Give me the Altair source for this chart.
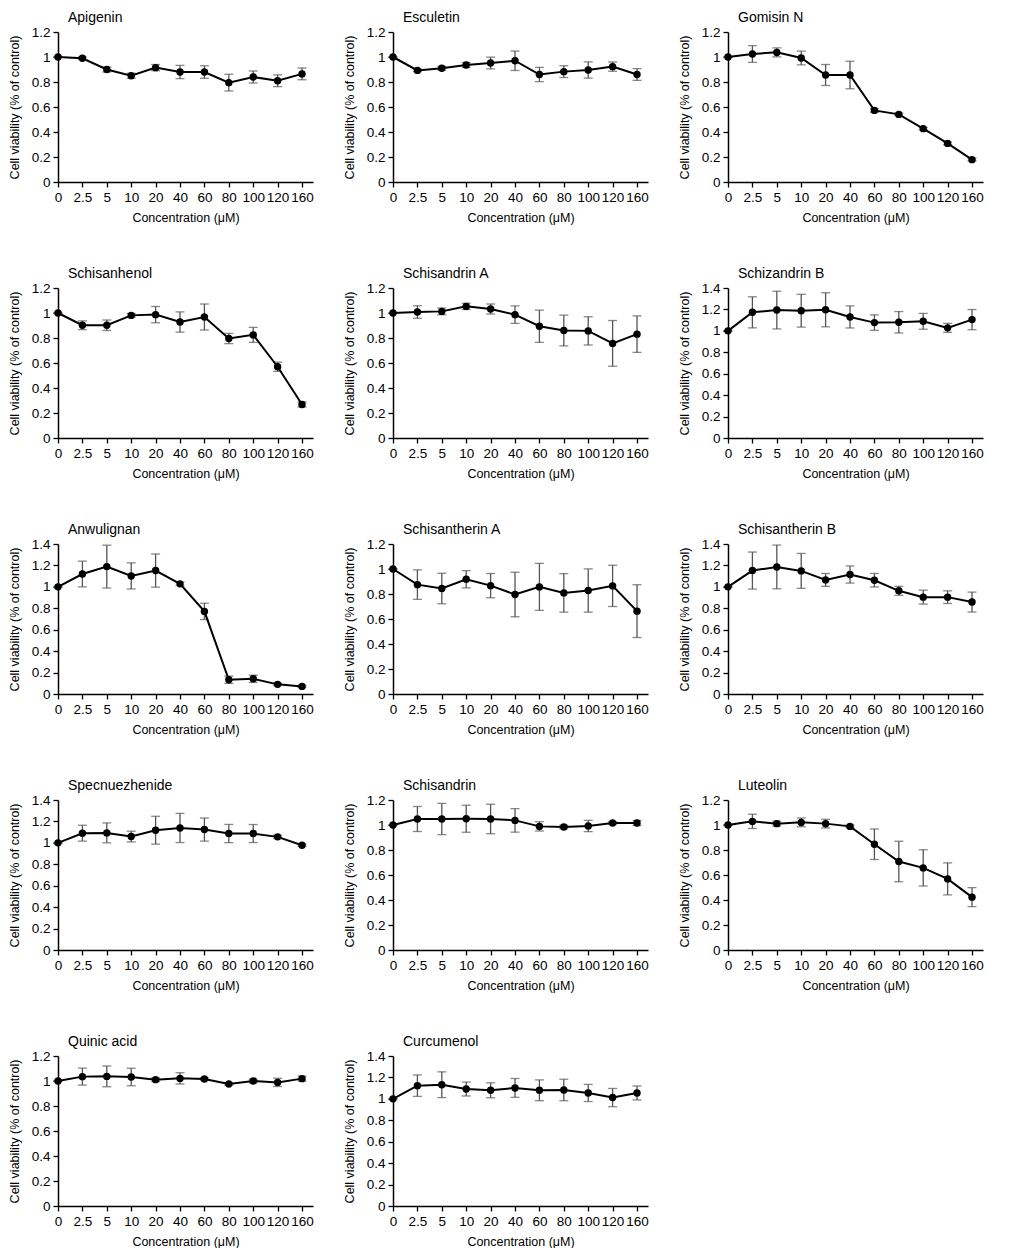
import altair as alt
import pandas as pd

conc_labels = ["0", "2.5", "5", "10", "20", "40", "60", "80", "100", "120", "160"]

names = ["Apigenin", "Esculetin", "Gomisin N",
         "Schisanhenol", "Schisandrin A", "Schizandrin B",
         "Anwulignan", "Schisantherin A", "Schisantherin B",
         "Specnuezhenide", "Schisandrin", "Luteolin",
         "Quinic acid", "Curcumenol"]

ymax = [1.2, 1.2, 1.2,
        1.2, 1.2, 1.4,
        1.4, 1.2, 1.4,
        1.4, 1.2, 1.2,
        1.2, 1.4]

apigenin_mean = [1.0, 0.99, 0.90, 0.85, 0.915, 0.88, 0.88, 0.795, 0.84, 0.81, 0.865]
apigenin_err = [0.0, 0.01, 0.02, 0.02, 0.025, 0.053, 0.05, 0.067, 0.048, 0.047, 0.047]

esculetin_mean = [1.0, 0.893, 0.91, 0.936, 0.952, 0.97, 0.86, 0.883, 0.896, 0.923, 0.86]
esculetin_err = [0.0, 0.01, 0.015, 0.02, 0.047, 0.078, 0.057, 0.047, 0.065, 0.037, 0.047]

gomisin_mean = [1.0, 1.024, 1.037, 0.992, 0.856, 0.856, 0.573, 0.541, 0.427, 0.309, 0.179]
gomisin_err = [0.0, 0.067, 0.036, 0.055, 0.084, 0.11, 0.015, 0.01, 0.01, 0.01, 0.01]

schisanhenol_mean = [1.0, 0.902, 0.902, 0.981, 0.987, 0.928, 0.968, 0.796, 0.825, 0.570, 0.268]
schisanhenol_err = [0.0, 0.035, 0.042, 0.015, 0.065, 0.081, 0.104, 0.041, 0.06, 0.037, 0.02]

schisandrinA_mean = [1.0, 1.008, 1.013, 1.053, 1.032, 0.987, 0.894, 0.86, 0.857, 0.757, 0.831]
schisandrinA_err = [0.0, 0.05, 0.027, 0.025, 0.04, 0.07, 0.129, 0.123, 0.113, 0.183, 0.146]

schizandrinB_mean = [1.0, 1.173, 1.194, 1.188, 1.197, 1.13, 1.077, 1.08, 1.089, 1.028, 1.105]
schizandrinB_err = [0.0, 0.145, 0.176, 0.153, 0.159, 0.103, 0.072, 0.1, 0.074, 0.042, 0.094]

anwulignan_mean = [1.0, 1.12, 1.189, 1.102, 1.152, 1.028, 0.771, 0.133, 0.142, 0.09, 0.071]
anwulignan_err = [0.0, 0.12, 0.2, 0.122, 0.155, 0.015, 0.076, 0.034, 0.034, 0.01, 0.01]

schisantherinA_mean = [1.0, 0.875, 0.844, 0.918, 0.867, 0.796, 0.857, 0.809, 0.828, 0.865, 0.663]
schisantherinA_err = [0.0, 0.118, 0.122, 0.069, 0.097, 0.178, 0.188, 0.154, 0.173, 0.165, 0.211]

schisantherinB_mean = [1.0, 1.152, 1.186, 1.149, 1.065, 1.115, 1.062, 0.963, 0.904, 0.904, 0.858]
schisantherinB_err = [0.0, 0.173, 0.204, 0.163, 0.06, 0.08, 0.063, 0.042, 0.065, 0.059, 0.093]

specnuezhenide_mean = [1.0, 1.09, 1.093, 1.059, 1.118, 1.139, 1.124, 1.087, 1.087, 1.056, 0.978]
specnuezhenide_err = [0.0, 0.074, 0.093, 0.05, 0.13, 0.136, 0.108, 0.085, 0.084, 0.015, 0.01]

schisandrin_mean = [1.0, 1.048, 1.048, 1.05, 1.048, 1.037, 0.989, 0.984, 0.992, 1.016, 1.016]
schisandrin_err = [0.0, 0.1, 0.125, 0.108, 0.118, 0.094, 0.037, 0.015, 0.045, 0.01, 0.02]

luteolin_mean = [1.0, 1.029, 1.011, 1.021, 1.011, 0.989, 0.846, 0.708, 0.657, 0.569, 0.423]
luteolin_err = [0.0, 0.057, 0.02, 0.035, 0.035, 0.01, 0.122, 0.162, 0.145, 0.128, 0.076]

quinic_mean = [1.0, 1.035, 1.037, 1.032, 1.011, 1.021, 1.016, 0.976, 1.0, 0.989, 1.019]
quinic_err = [0.0, 0.068, 0.083, 0.07, 0.015, 0.045, 0.01, 0.01, 0.015, 0.033, 0.02]

curcumenol_mean = [1.0, 1.123, 1.132, 1.092, 1.08, 1.102, 1.08, 1.083, 1.055, 1.012, 1.055]
curcumenol_err = [0.0, 0.1, 0.12, 0.065, 0.07, 0.088, 0.097, 0.1, 0.08, 0.085, 0.065]

means = [apigenin_mean, esculetin_mean, gomisin_mean,
         schisanhenol_mean, schisandrinA_mean, schizandrinB_mean,
         anwulignan_mean, schisantherinA_mean, schisantherinB_mean,
         specnuezhenide_mean, schisandrin_mean, luteolin_mean,
         quinic_mean, curcumenol_mean]
errs = [apigenin_err, esculetin_err, gomisin_err,
        schisanhenol_err, schisandrinA_err, schizandrinB_err,
        anwulignan_err, schisantherinA_err, schisantherinB_err,
        specnuezhenide_err, schisandrin_err, luteolin_err,
        quinic_err, curcumenol_err]

FONT = "Liberation Sans"
label_expr = "[" + ",".join("'%s'" % c for c in conc_labels) + "][datum.value]"


def panel(name, m, e, ym):
    df = pd.DataFrame({
        "idx": list(range(len(conc_labels))),
        "conc": conc_labels,
        "mean": m,
        "lo": [a - b for a, b in zip(m, e)],
        "hi": [a + b for a, b in zip(m, e)],
    })
    x = alt.X("idx:Q",
              scale=alt.Scale(domain=[0, 10.45], nice=False, zero=False),
              axis=alt.Axis(values=list(range(len(conc_labels))), labelExpr=label_expr,
                            title="Concentration (μM)", labelOverlap=False,
                            labelFlush=False, titlePadding=8, grid=False,
                            labelPadding=3, titleFontSize=12.5))
    y_axis = alt.Axis(values=[round(i * 0.2, 1) for i in range(int(round(ym / 0.2)) + 1)],
                      title="Cell viability (% of control)", format="~g",
                      titlePadding=10, grid=False, titleFontSize=12.5)
    yscale = alt.Scale(domain=[0, ym], nice=False)
    y = alt.Y("mean:Q", scale=yscale, axis=y_axis)
    base = alt.Chart(df)
    err = base.mark_rule(color="#555555", strokeWidth=1.3).encode(
        x=x, y=alt.Y("lo:Q", scale=yscale, axis=y_axis), y2="hi:Q")
    cap_lo = base.mark_tick(color="#555555", orient="horizontal", size=9, thickness=1.3).encode(
        x=x, y=alt.Y("lo:Q", scale=yscale, axis=y_axis))
    cap_hi = base.mark_tick(color="#555555", orient="horizontal", size=9, thickness=1.3).encode(
        x=x, y=alt.Y("hi:Q", scale=yscale, axis=y_axis))
    line = base.mark_line(color="black", strokeWidth=2).encode(x=x, y=y)
    pts = base.mark_circle(color="black", size=55, opacity=1).encode(x=x, y=y)
    return alt.layer(err, cap_lo, cap_hi, line, pts).properties(
        width=255, height=150,
        title=alt.TitleParams(name, anchor="start", dx=10, fontSize=14, font=FONT,
                              fontWeight="normal", offset=0, color="black", frame="group"))


panels = [panel(n, m, e, ym) for n, m, e, ym in zip(names, means, errs, ymax)]
rows = [alt.hconcat(*panels[i:i + 3], spacing=29) for i in range(0, len(panels), 3)]
chart = alt.vconcat(*rows, spacing=43).properties(
    padding={"top": 3, "left": 0, "right": 0, "bottom": 0}).configure(
    background="white").configure_view(stroke=None).configure_axis(
    grid=False, domainColor="black", domainWidth=1.5, tickColor="black", tickWidth=1.3,
    tickSize=5, labelFont=FONT, labelFontSize=13.5, labelColor="black", labelPadding=3,
    titleFont=FONT, titleFontSize=12.5, titleFontWeight="normal", titleColor="black"
)

chart.save("out.html", embed_options={"renderer": "svg", "actions": False})
